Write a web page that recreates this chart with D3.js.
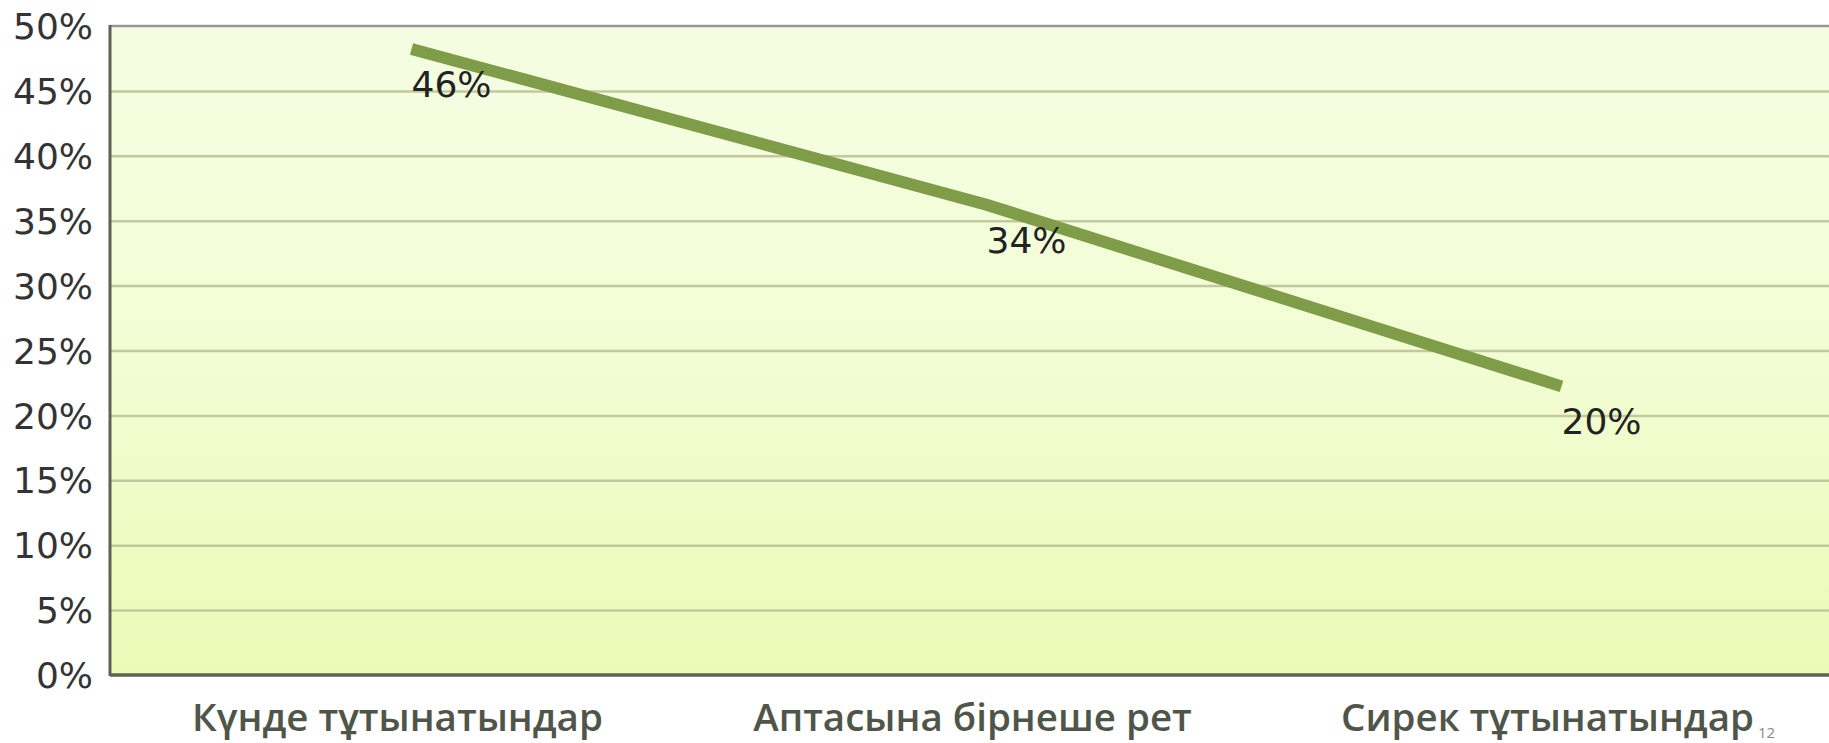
<!DOCTYPE html>
<html>
<head>
<meta charset="utf-8">
<script src="https://cdn.jsdelivr.net/npm/d3@7"></script>
<style>
  html, body { margin: 0; padding: 0; background: #ffffff; overflow: hidden; }
</style>
</head>
<body>
<svg id="chart" width="1829" height="743"></svg>
<script>
const categories = ["Күнде тұтынатындар", "Аптасына бірнеше рет", "Сирек тұтынатындар"];
const values = [46, 34, 20];
const dataLabels = ["46%", "34%", "20%"];
const yTicks = [0, 5, 10, 15, 20, 25, 30, 35, 40, 45, 50];
const yTickLabels = ["0%", "5%", "10%", "15%", "20%", "25%", "30%", "35%", "40%", "45%", "50%"];

(function () {
const svg = d3.select("#chart");
const pLeft = 110, pTop = 26, pRight = 1835, pBottom = 675;

const x = d3.scaleBand().domain(categories).range([pLeft, pRight]);
const y = d3.scaleLinear().domain([0, 50]).range([pBottom, pTop]);

const defs = svg.append("defs");
const grad = defs.append("linearGradient").attr("id", "bg").attr("x1", 0).attr("y1", 0).attr("x2", 0).attr("y2", 1);
grad.append("stop").attr("offset", "0%").attr("stop-color", "#f5fde2");
grad.append("stop").attr("offset", "50%").attr("stop-color", "#f2fdd4");
grad.append("stop").attr("offset", "100%").attr("stop-color", "#ebfbb6");

svg.append("rect").attr("x", pLeft).attr("y", pTop).attr("width", pRight - pLeft).attr("height", pBottom - pTop).attr("fill", "url(#bg)");

// gridlines
const yAxisGrid = d3.axisLeft(y).tickValues(yTicks.filter(d => d > 0 && d < 50)).tickSize(-(pRight - pLeft)).tickFormat("");
svg.append("g").attr("transform", `translate(${pLeft},0)`).call(yAxisGrid)
  .call(g => g.select(".domain").remove())
  .call(g => g.selectAll("line").attr("stroke", "#c2c99e").attr("stroke-width", 2.5));

// top border
svg.append("line").attr("x1", pLeft).attr("x2", pRight).attr("y1", pTop).attr("y2", pTop).attr("stroke", "#9a9a92").attr("stroke-width", 2.5);

// y tick labels
const yAxis = d3.axisLeft(y).tickValues(yTicks).tickSize(0).tickPadding(17).tickFormat((d, i) => yTickLabels[i]);
svg.append("g").attr("transform", `translate(${pLeft},0)`).call(yAxis)
  .call(g => g.select(".domain").remove())
  .call(g => g.selectAll("text").attr("font-family", "DejaVu Sans").attr("font-size", 36).attr("fill", "#333333").attr("dy", "0.35em"));

// axes lines
svg.append("line").attr("x1", pLeft).attr("x2", pLeft).attr("y1", pTop - 1).attr("y2", pBottom + 1).attr("stroke", "#5d6352").attr("stroke-width", 3);
svg.append("line").attr("x1", pLeft).attr("x2", pRight).attr("y1", pBottom).attr("y2", pBottom).attr("stroke", "#5d6352").attr("stroke-width", 3.5);

// category labels
const xAxis = d3.axisBottom(x).tickSize(0).tickPadding(0);
svg.append("g").attr("transform", `translate(0,${pBottom})`).call(xAxis)
  .call(g => g.select(".domain").remove())
  .call(g => g.selectAll("text").attr("font-family", "Open Sans").attr("font-weight", 600).attr("font-size", 38.5).attr("fill", "#50554a")
    .attr("dy", 0).attr("y", 56).attr("text-anchor", "middle"));

// line (drawn with offset like the reference)
const line = d3.line().x((d, i) => x(categories[i]) + x.bandwidth() / 2).y(d => y(d));
svg.append("path").datum(values).attr("d", line)
  .attr("transform", "translate(14,-29)")
  .attr("fill", "none").attr("stroke", "#7f9c48").attr("stroke-width", 12).attr("stroke-linecap", "butt");

// data labels
svg.append("g").selectAll("text").data(values).join("text")
  .attr("x", (d, i) => x(categories[i]) + x.bandwidth() / 2 + 14)
  .attr("y", d => y(d) + 19)
  .attr("font-family", "DejaVu Sans").attr("font-size", 36).attr("fill", "#222222")
  .text((d, i) => dataLabels[i]);

// slide number
svg.append("text").attr("x", 1758).attr("y", 738).attr("font-family", "Open Sans").attr("font-size", 15).attr("fill", "#8a8a8a").text("12");
})();
</script>
</body>
</html>
